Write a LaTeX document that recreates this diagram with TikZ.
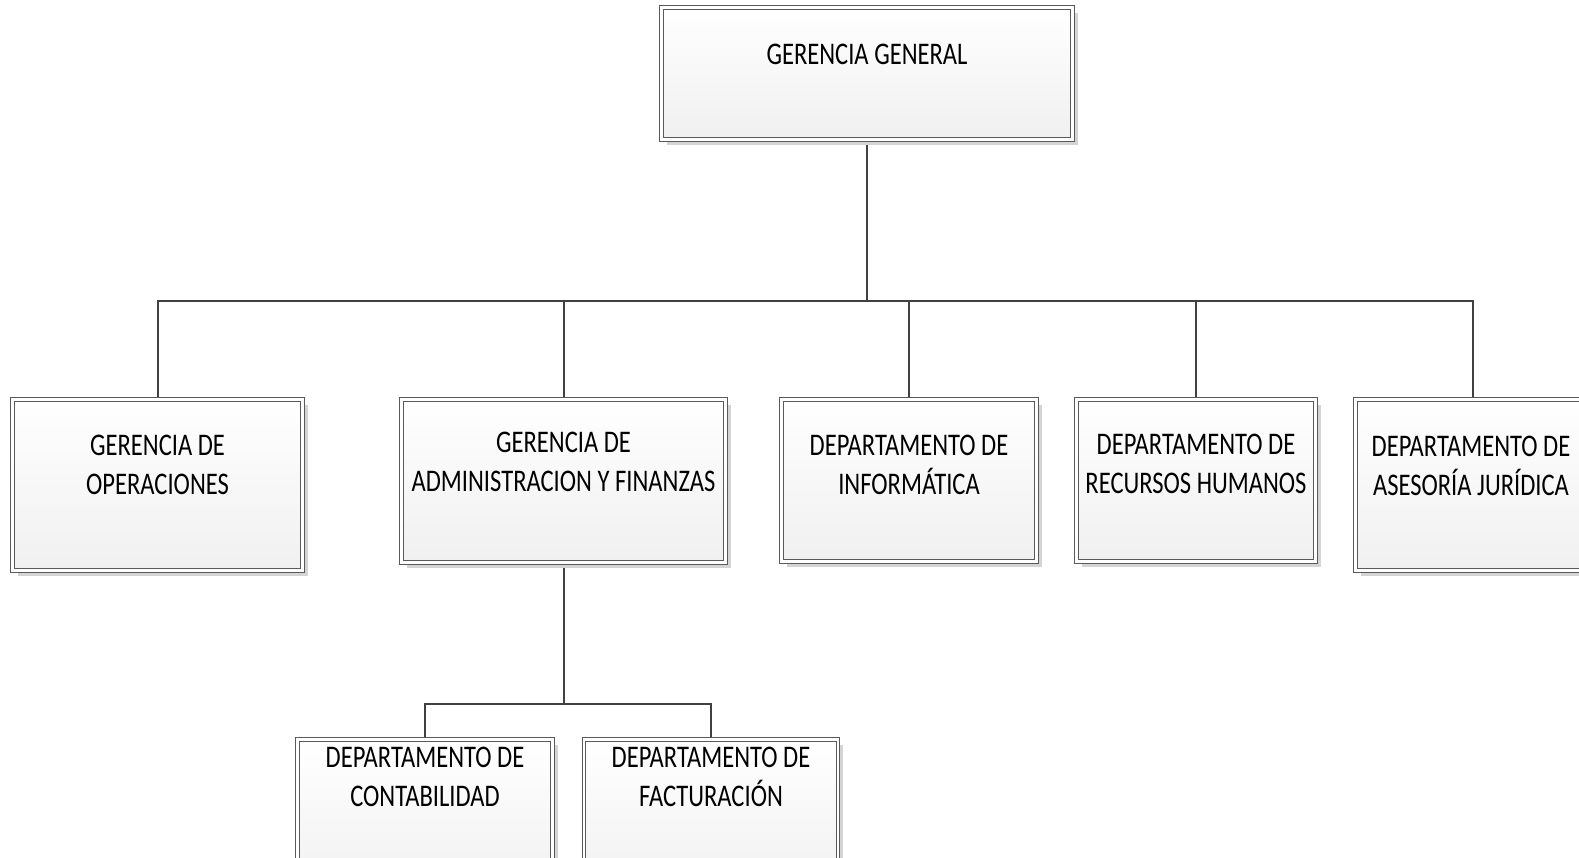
\documentclass[tikz,border=0pt]{standalone}
\usepackage{fontspec}
\setmainfont{Carlito}[FakeStretch=0.78]
\usetikzlibrary{shadows}
\pgfdeclarelayer{background}
\pgfsetlayers{background,main}
\definecolor{framegray}{HTML}{5A5A5A}
\definecolor{linkgray}{HTML}{404040}
\definecolor{shadegray}{HTML}{F0F0F0}
\definecolor{shadowgray}{HTML}{D4D4D4}
% two centred lines whose baseline is that of the first line
\newcommand{\twolines}[2]{\begin{tabular}[t]{@{}c@{}}#1\\#2\end{tabular}}
\tikzset{
  unitbox/.style={rectangle, inner sep=0pt, draw=framegray, line width=0.9pt,
    double=white, double distance=2.8pt, top color=white, bottom color=shadegray,
    drop shadow={shadow xshift=5pt, shadow yshift=-5pt, fill=shadowgray, opacity=1}},
  caption/.style={anchor=base, inner sep=0pt, font=\fontsize{31.5}{39}\selectfont, text=black},
  link/.style={draw=linkgray, line width=2pt},
}
\begin{document}
\begin{tikzpicture}[x=1pt,y=-1pt]
\useasboundingbox (0,0) rectangle (1579,857);

% boxes
\node[unitbox, minimum width=411pt, minimum height=132pt] (gg) at (867,73.5) {};
\node[unitbox, minimum width=290pt, minimum height=171pt] (b1) at (157.5,485) {};
\node[unitbox, minimum width=324pt, minimum height=163pt] (b2) at (563.5,481) {};
\node[unitbox, minimum width=255pt, minimum height=162pt] (b3) at (909,480.5) {};
\node[unitbox, minimum width=239pt, minimum height=162pt] (b4) at (1196,480.5) {};
\node[unitbox, minimum width=235pt, minimum height=171pt] (b5) at (1473,485) {};
\node[unitbox, minimum width=255pt, minimum height=160pt] (b6) at (425,819.5) {};
\node[unitbox, minimum width=254pt, minimum height=160pt] (b7) at (711,819.5) {};

% captions
\node[caption] (tgg) at (867,64) {GERENCIA GENERAL};
\node[caption] (tb1) at (157.5,455) {\twolines{GERENCIA DE}{OPERACIONES}};
\node[caption] (tb2) at (563.5,452) {\twolines{GERENCIA DE}{ADMINISTRACION Y FINANZAS}};
\node[caption] (tb3) at (909,455) {\twolines{DEPARTAMENTO DE}{INFORMÁTICA}};
\node[caption] (tb4) at (1196,454.5) {\twolines{DEPARTAMENTO DE}{RECURSOS HUMANOS}};
\node[caption] (tb5) at (1471,456) {\twolines{DEPARTAMENTO DE}{ASESORÍA JURÍDICA}};
\node[caption] (tb6) at (425,767) {\twolines{DEPARTAMENTO DE}{CONTABILIDAD}};
\node[caption] (tb7) at (711,767) {\twolines{DEPARTAMENTO DE}{FACTURACIÓN}};

% connectors
\coordinate (bus) at (867,300.5);
\coordinate (sub) at (563.5,704);
\begin{pgfonlayer}{background}
  \draw[link] (gg.south) -- (bus);
  \draw[link] (b1.north) -- (b1.north |- bus) -- (b5.north |- bus) -- (b5.north);
  \foreach \b in {b2,b3,b4} \draw[link] (\b.north) -- (\b.north |- bus);
  \draw[link] (b2.south) -- (sub);
  \draw[link] (b6.north) -- (b6.north |- sub) -- (b7.north |- sub) -- (b7.north);
\end{pgfonlayer}
\end{tikzpicture}
\end{document}
